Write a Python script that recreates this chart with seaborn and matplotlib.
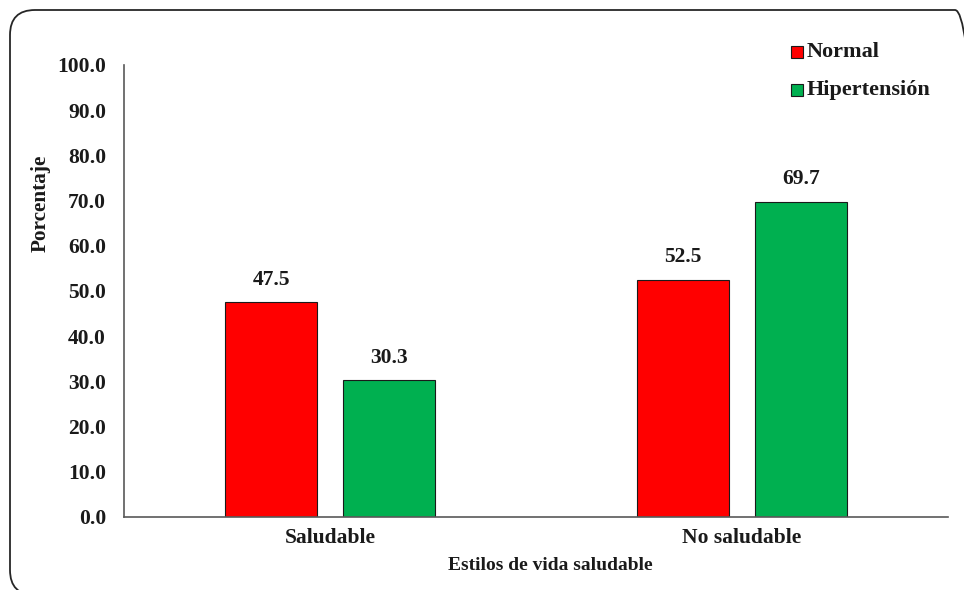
import matplotlib
matplotlib.use("Agg")
import matplotlib.pyplot as plt
from matplotlib.patches import FancyBboxPatch
from matplotlib.transforms import IdentityTransform
import seaborn as sns
import pandas as pd

categories = ["Saludable", "No saludable"]
groups = ["Normal", "Hipertensión"]
normal = [47.5, 52.5]
hipertension = [30.3, 69.7]
yticks = [0, 10, 20, 30, 40, 50, 60, 70, 80, 90, 100]

df = pd.DataFrame({
    "Estilo": categories * 2,
    "Grupo": [groups[0]] * 2 + [groups[1]] * 2,
    "Porcentaje": normal + hipertension,
})

sns.set_theme(style="white")
plt.rcParams["font.family"] = ["Liberation Serif", "DejaVu Serif"]
plt.rcParams["font.weight"] = "bold"

TXT = "#1a1a1a"
fig = plt.figure(figsize=(9.64, 5.90), dpi=100)
ax = fig.add_axes([124 / 964, 1 - 517 / 590, (948 - 124) / 964, (517 - 65) / 590])

palette = {"Normal": "#FF0000", "Hipertensión": "#00B050"}
sns.barplot(data=df, x="Estilo", y="Porcentaje", hue="Grupo", order=categories,
            hue_order=groups, palette=palette, width=0.57, gap=0.22,
            edgecolor="#1a1a1a", linewidth=0.8, saturation=1, ax=ax, legend=False)

for cont in ax.containers:
    ax.bar_label(cont, labels=[f"{v:.1f}" for v in cont.datavalues], padding=9,
                 fontsize=15.5, fontweight="bold", color=TXT)

ax.set_xlim(-0.5, 1.5)
ax.set_ylim(0, 100)
ax.set_yticks(yticks)
ax.set_yticklabels([f"{v:.1f}" for v in yticks], fontsize=15.5, fontweight="bold", color=TXT)
ax.tick_params(axis="y", length=0, pad=13)
ax.tick_params(axis="x", length=0, pad=8)
for lab in ax.get_xticklabels():
    lab.set_fontsize(15.5)
    lab.set_fontweight("bold")
    lab.set_color(TXT)

ax.set_xlabel("")
ax.set_ylabel("")
for s in ["top", "right"]:
    ax.spines[s].set_visible(False)
for s in ["left", "bottom"]:
    ax.spines[s].set_color("#595959")
    ax.spines[s].set_linewidth(1.2)

fig.text(41 / 964, 1 - 203 / 590, "Porcentaje", rotation=90, ha="center", va="center",
         fontsize=15.3, fontweight="bold", color=TXT)
fig.text(550 / 964, 1 - 566 / 590, "Estilos de vida saludable", ha="center", va="center",
         fontsize=14, fontweight="bold", color=TXT)

# legend drawn as markers + text
for i, g in enumerate(groups):
    y = 1 - (52 + i * 38) / 590
    fig.patches.append(FancyBboxPatch((791 / 964, y - 6 / 590), 12 / 964, 12 / 590,
                                      boxstyle="square,pad=0", transform=fig.transFigure,
                                      facecolor=palette[g], edgecolor="#1a1a1a", linewidth=0.8))
    fig.text(807 / 964, y, g, ha="left", va="center", fontsize=16, fontweight="bold",
             color=TXT)

# rounded outer frame in pixel units, running off the right and bottom edges
frame = FancyBboxPatch((10, -5), 970, 585,
                       boxstyle="round,pad=0,rounding_size=25",
                       transform=IdentityTransform(), facecolor="none",
                       edgecolor="#262626", linewidth=1.3)
fig.patches.append(frame)

fig.savefig("out.png", dpi=100)
